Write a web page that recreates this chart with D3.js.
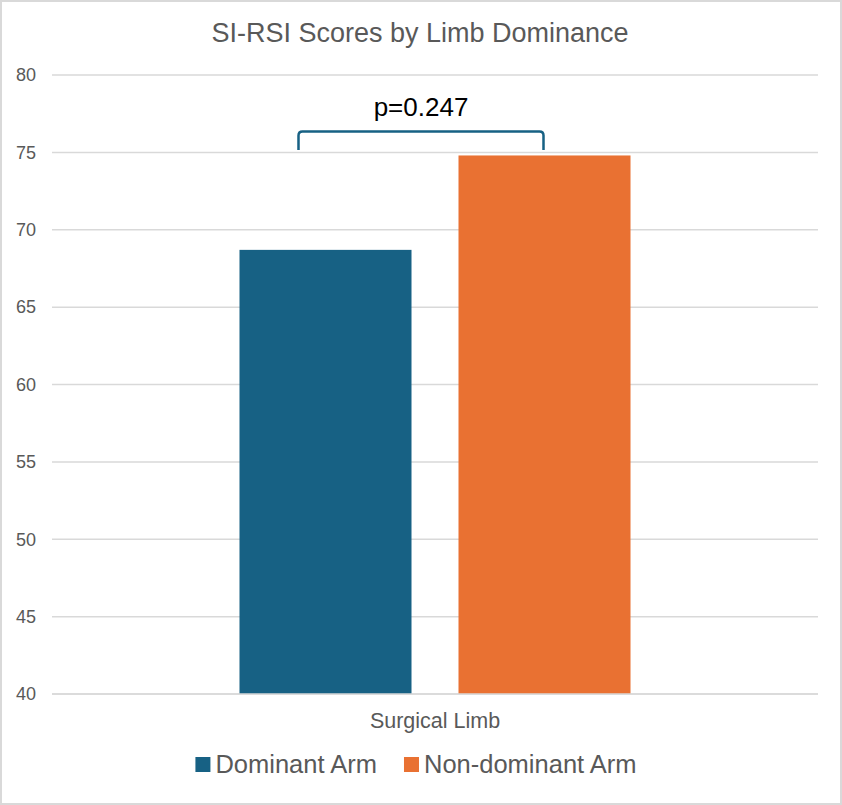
<!DOCTYPE html>
<html>
<head>
<meta charset="utf-8">
<script src="https://cdn.jsdelivr.net/npm/d3@7"></script>
<style>
  body { margin: 0; background: #fff; }
  svg { display: block; }
  .narrow { font-family: "Liberation Sans Narrow", "Arial Narrow", "Liberation Sans", sans-serif; }
</style>
</head>
<body>
<svg id="chart" width="842" height="805"></svg>
<script>
const categories = ["Surgical Limb"];
const seriesNames = ["Dominant Arm", "Non-dominant Arm"];
const seriesValues = [68.7, 74.8];
const seriesColours = ["#176184", "#E97132"];
const yTicks = [40, 45, 50, 55, 60, 65, 70, 75, 80];
const pLabel = "p=0.247";
const bracketTop = 76.35;
const bracketLeg = 75.15;

const svg = d3.select("#chart");
const width = +svg.attr("width");
const height = +svg.attr("height");

svg.append("rect")
    .attr("x", 1).attr("y", 1)
    .attr("width", width - 2).attr("height", height - 2)
    .attr("fill", "#fff")
    .attr("stroke", "#d9d9d9")
    .attr("stroke-width", 2);

const plot = { left: 52, right: 818, top: 75, bottom: 694 };

const y = d3.scaleLinear().domain([40, 80]).range([plot.bottom, plot.top]);

const x0 = d3.scaleBand()
    .domain(categories)
    .range([plot.left, plot.right])
    .paddingInner(0)
    .paddingOuter(0.4795);

const x1 = d3.scaleBand()
    .domain(seriesNames)
    .range([0, x0.bandwidth()])
    .paddingInner(0.2146)
    .paddingOuter(0);

// gridlines
svg.append("g")
    .selectAll("line")
    .data(yTicks)
    .join("line")
        .attr("x1", plot.left)
        .attr("x2", plot.right)
        .attr("y1", d => y(d))
        .attr("y2", d => y(d))
        .attr("stroke", "#d9d9d9")
        .attr("stroke-width", 1.5);

// y tick labels
svg.append("g")
    .attr("class", "narrow")
    .selectAll("text")
    .data(yTicks)
    .join("text")
        .attr("x", 36)
        .attr("y", d => y(d))
        .attr("dy", "0.35em")
        .attr("text-anchor", "end")
        .attr("font-size", 18)
        .attr("fill", "#595959")
        .text(d => d);

// bars
const bars = seriesNames.map((name, i) => ({ name, value: seriesValues[i], colour: seriesColours[i] }));
svg.append("g")
    .attr("transform", `translate(${x0(categories[0])},0)`)
    .selectAll("rect")
    .data(bars)
    .join("rect")
        .attr("x", d => x1(d.name))
        .attr("y", d => y(d.value))
        .attr("width", x1.bandwidth())
        .attr("height", d => y(40) - y(d.value))
        .attr("fill", d => d.colour);

// baseline redraw over bars
svg.append("line")
    .attr("x1", plot.left).attr("x2", plot.right)
    .attr("y1", y(40)).attr("y2", y(40))
    .attr("stroke", "#d9d9d9").attr("stroke-width", 1.5);

// significance bracket
const bx0 = x0(categories[0]) + x1(seriesNames[0]) + x1.bandwidth() / 2 - 27;
const bx1 = x0(categories[0]) + x1(seriesNames[1]) + x1.bandwidth() / 2 - 1;
const yt = y(bracketTop), yl = y(bracketLeg), r = 4;
svg.append("path")
    .attr("d", `M${bx0},${yl} L${bx0},${yt + r} Q${bx0},${yt} ${bx0 + r},${yt} L${bx1 - r},${yt} Q${bx1},${yt} ${bx1},${yt + r} L${bx1},${yl}`)
    .attr("fill", "none")
    .attr("stroke", "#176184")
    .attr("stroke-width", 2.5);

svg.append("text")
    .attr("x", (bx0 + bx1) / 2)
    .attr("y", yt - 15)
    .attr("text-anchor", "middle")
    .attr("font-family", "Liberation Sans, Arial, sans-serif")
    .attr("font-size", 26)
    .attr("fill", "#000")
    .text(pLabel);

// title
svg.append("text")
    .attr("class", "narrow")
    .attr("x", 420)
    .attr("y", 42)
    .attr("text-anchor", "middle")
    .attr("font-size", 27)
    .attr("fill", "#595959")
    .text("SI-RSI Scores by Limb Dominance");

// category label
svg.append("text")
    .attr("class", "narrow")
    .attr("x", x0(categories[0]) + x0.bandwidth() / 2)
    .attr("y", 728)
    .attr("text-anchor", "middle")
    .attr("font-size", 21.5)
    .attr("fill", "#595959")
    .text(categories[0]);

// legend
const legendItems = bars;
const legend = svg.append("g").attr("class", "narrow");
const sw = 15, gap = 5, itemGap = 27, fs = 25.5;
const tmp = legend.append("text").attr("font-size", fs);
const widths = legendItems.map(d => { tmp.text(d.name); return tmp.node().getComputedTextLength(); });
tmp.remove();
const total = d3.sum(widths) + legendItems.length * (sw + gap) + itemGap * (legendItems.length - 1);
let cx = 416 - total / 2;
legendItems.forEach((d, i) => {
    legend.append("rect")
        .attr("x", cx).attr("y", 757)
        .attr("width", sw).attr("height", sw)
        .attr("fill", d.colour);
    legend.append("text")
        .attr("x", cx + sw + gap)
        .attr("y", 773)
        .attr("font-size", fs)
        .attr("fill", "#595959")
        .text(d.name);
    cx += sw + gap + widths[i] + itemGap;
});
</script>
</body>
</html>
